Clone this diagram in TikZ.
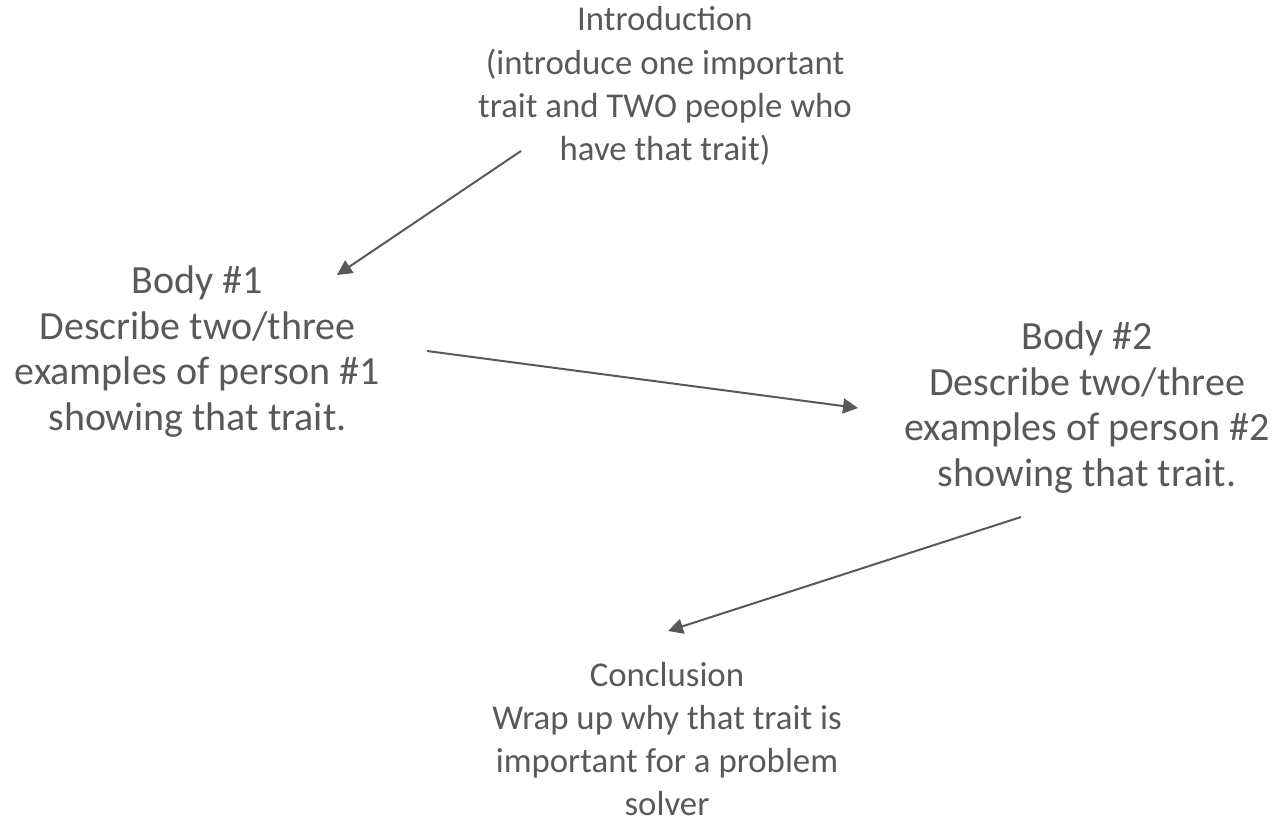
\documentclass[tikz,border=0pt]{standalone}
\usepackage{fontspec}
\setmainfont{Carlito}
\usepackage{tikz}
\usetikzlibrary{positioning,calc,arrows.meta}
\definecolor{txtgray}{HTML}{595959}

\begin{document}
\begin{tikzpicture}[x=1pt,y=-1pt,
    small/.style={align=center,text=txtgray,inner sep=0pt,font=\fontsize{34.8}{43.3}\selectfont},
    big/.style={align=center,text=txtgray,inner sep=0pt,font=\fontsize{40}{45.5}\selectfont},
    link/.style={draw=txtgray,line width=2pt,-{Triangle[length=15pt,width=15pt]}}]
      \useasboundingbox (0,0) rectangle (1287,819);
      \node[small](intro) at (665,86){Introduction\\(introduce one important\\trait and TWO people who\\have that trait)};
      \node[big](body1) at (197.5,351.5){Body \#1\\Describe two/three\\examples of person \#1\\showing that trait.};
      \node[big](body2) at (1087,407.5){Body \#2\\Describe two/three\\examples of person \#2\\showing that trait.};
      \node[small](concl) at (667,739){Conclusion\\Wrap up why that trait is\\important for a problem\\solver};
      % arrows between the parts
      \draw[link] ($(intro.center)+(-144,65)$) -- ($(body1.center)+(139.5,-76.5)$);
      \draw[link] ($(body1.center)+(229.5,-0.5)$) -- ($(body2.center)+(-229,0.5)$);
      \draw[link] ($(body2.center)+(-66,109.5)$) -- ($(concl.center)+(1,-108)$);
    \end{tikzpicture}
\end{document}
